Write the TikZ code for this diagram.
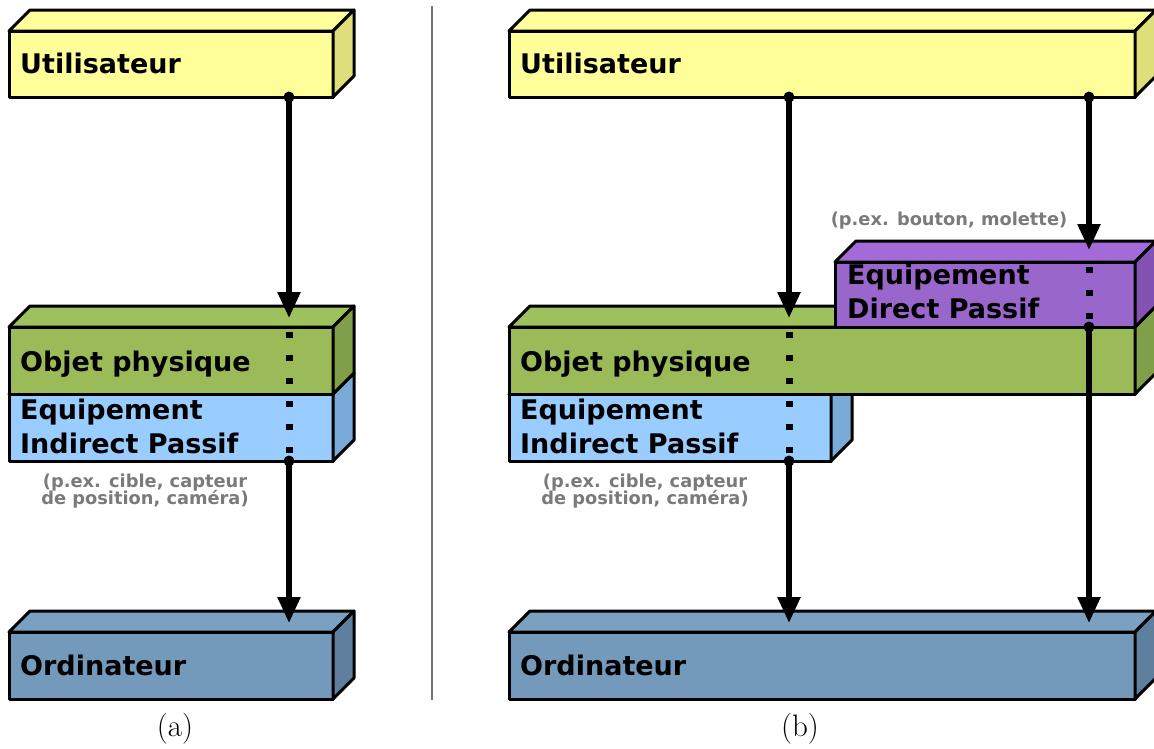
\documentclass[tikz,border=0pt]{standalone}
\usepackage{fontspec}
\newfontfamily\dv{DejaVu Sans}
\usetikzlibrary{arrows.meta}
\definecolor{yF}{HTML}{FFFF99}
\definecolor{yT}{HTML}{FFFF9C}
\definecolor{yS}{HTML}{DEDE7A}
\definecolor{gF}{HTML}{9BBB59}
\definecolor{gT}{HTML}{9DC15D}
\definecolor{gS}{HTML}{7FA048}
\definecolor{bF}{HTML}{99CCFF}
\definecolor{bT}{HTML}{9FD0FF}
\definecolor{bS}{HTML}{7AAAD8}
\definecolor{oF}{HTML}{7399BB}
\definecolor{oT}{HTML}{7AA0C2}
\definecolor{oS}{HTML}{5E7F9E}
\definecolor{pF}{HTML}{9966CC}
\definecolor{pT}{HTML}{A36BD8}
\definecolor{pS}{HTML}{8352B3}
\definecolor{labgray}{HTML}{7A7A7A}
\tikzset{
  face/.style={draw=black, line width=3pt, line join=round},
  frontbox/.style={face, inner sep=0pt, outer sep=0pt, anchor=north west},
  boxtext/.style={anchor=base west, inner sep=0pt, font=\dv\bfseries\fontsize{27}{30}\selectfont, text=black},
  labtext/.style={anchor=base, inner sep=0pt, font=\dv\bfseries\fontsize{17.8}{18}\selectfont, text=labgray},
  captext/.style={anchor=center, inner sep=0pt, font=\fontsize{31}{34}\selectfont},
  arr/.style={line width=5.5pt, -{Triangle[length=26pt,width=22pt]}},
  dotline/.style={line width=7pt, dash pattern=on 6pt off 17pt, dash phase=18pt},
}
\newcommand\cuboid[8]{%
  \node[frontbox, fill=#6, minimum width=#4pt, minimum height=#5pt] (#1) at (#2,#3) {};
  \draw[face, fill=#7] (#1.north west) -- ([shift={(21,-21)}]#1.north west) -- ([shift={(21,-21)}]#1.north east) -- (#1.north east) -- cycle;
  \draw[face, fill=#8] (#1.north east) -- ([shift={(21,-21)}]#1.north east) -- ([shift={(21,-21)}]#1.south east) -- (#1.south east) -- cycle;
}
\begin{document}
\begin{tikzpicture}[x=1pt,y=-1pt]
\useasboundingbox (0,0) rectangle (1154,748);
% separator
\coordinate (s1) at (432,6);
\coordinate (s2) at (432,700);
\draw[black!55, line width=1.5pt] (s1) -- (s2);
% ---------- panel (a)
\cuboid{ua}{9}{31}{324}{66}{yF}{yT}{yS}
\cuboid{oa}{9}{632}{324}{67}{oF}{oT}{oS}
\cuboid{ba}{9}{394}{324}{67}{bF}{bT}{bS}
\cuboid{ga}{9}{327}{324}{67}{gF}{gT}{gS}
\node[boxtext] (tua) at (20,73) {Utilisateur};
\node[boxtext] (tga) at (20,371) {Objet physique};
\node[boxtext] (tba1) at (20,419) {Equipement};
\node[boxtext] (tba2) at (20,453) {Indirect Passif};
\node[boxtext] (toa) at (20,675) {Ordinateur};
\node[labtext] (la1) at (145,487) {(p.ex. cible, capteur};
\node[labtext] (la2) at (145,504) {de position, caméra)};
\node[captext] (capa) at (175,729) {(a)};
% ---------- panel (b)
\cuboid{ub}{509}{31}{626}{66}{yF}{yT}{yS}
\cuboid{ob}{509}{632}{626}{67}{oF}{oT}{oS}
\cuboid{bb}{509}{394}{322}{67}{bF}{bT}{bS}
\cuboid{gb}{509}{327}{626}{67}{gF}{gT}{gS}
\cuboid{pb}{835}{262}{300}{65}{pF}{pT}{pS}
\node[boxtext] (tub) at (520,73) {Utilisateur};
\node[boxtext] (tgb) at (520,371) {Objet physique};
\node[boxtext] (tbb1) at (520,419) {Equipement};
\node[boxtext] (tbb2) at (520,453) {Indirect Passif};
\node[boxtext] (tob) at (520,675) {Ordinateur};
\node[boxtext] (tpb1) at (847,284) {Equipement};
\node[boxtext] (tpb2) at (847,318) {Direct Passif};
\node[labtext] (lb1) at (645,487) {(p.ex. cible, capteur};
\node[labtext] (lb2) at (645,504) {de position, caméra)};
\node[labtext] (lp) at (949,225) {(p.ex. bouton, molette)};
\node[captext] (capb) at (800,729) {(b)};
% ---------- connectors (a)
\coordinate (a1) at (289,97);
\coordinate (a2) at (289,318);
\coordinate (a3) at (289,327);
\coordinate (a4) at (289,461);
\coordinate (a5) at (289,623);
\draw[arr] (a1) -- (a2);
\draw[dotline] (a3) -- (a4);
\draw[arr] (a4) -- (a5);
\fill (a1) circle (5.5pt);
\fill (a4) circle (5.5pt);
% ---------- connectors (b) left
\coordinate (b1) at (789,97);
\coordinate (b2) at (789,318);
\coordinate (b3) at (789,327);
\coordinate (b4) at (789,461);
\coordinate (b5) at (789,623);
\draw[arr] (b1) -- (b2);
\draw[dotline] (b3) -- (b4);
\draw[arr] (b4) -- (b5);
\fill (b1) circle (5.5pt);
\fill (b4) circle (5.5pt);
% ---------- connectors (b) right
\coordinate (c1) at (1089,97);
\coordinate (c2) at (1089,250);
\coordinate (c3) at (1089,262);
\coordinate (c4) at (1089,327);
\coordinate (c5) at (1089,623);
\draw[arr] (c1) -- (c2);
\draw[dotline] (c3) -- (c4);
\draw[arr] (c4) -- (c5);
\fill (c1) circle (5.5pt);
\fill (c4) circle (5.5pt);
\end{tikzpicture}
\end{document}
